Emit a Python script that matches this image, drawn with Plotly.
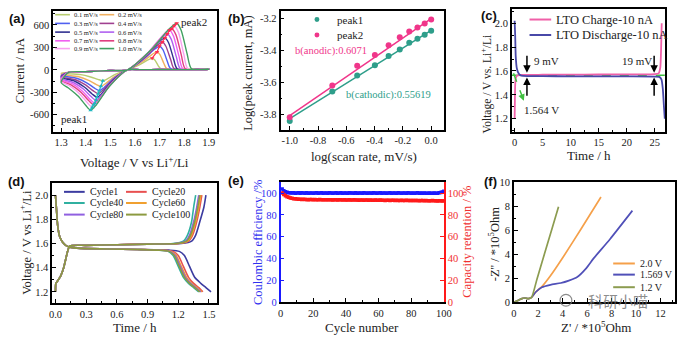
import plotly.graph_objects as go

W, H = 695, 345
SERIF = "Liberation Serif"
SANS = "Liberation Sans"
TXT = "#222222"

def px(x):
    return x / W

def py(y):
    return 1 - y / H

# ---------------- (a) CV curves ----------------
scan_rates = ["0.1 mV/s", "0.2 mV/s", "0.3 mV/s", "0.4 mV/s", "0.5 mV/s",
              "0.6 mV/s", "0.7 mV/s", "0.8 mV/s", "0.9 mV/s", "1.0 mV/s"]
cv_colors = ["#b8cc70", "#f0b060", "#5060f0", "#a04090", "#303090",
             "#b060f0", "#f060f0", "#e04080", "#f8a0f0", "#40a060"]

cv01_v = [1.30,1.33,1.40,1.50,1.57,1.620,1.655,1.670,1.681,1.695,1.705,1.90, 1.90,1.70,1.62,1.57,1.520,1.485,1.470,1.450,1.420,1.380,1.30]
cv01_i = [-45,-35,-25,-10,0,70,136,155,132,54,15,12, 8,4,2,0,-61,-127,-146,-128,-96,-65,-45]
cv02_v = [1.30,1.33,1.40,1.50,1.57,1.630,1.672,1.690,1.702,1.718,1.730,1.90, 1.90,1.70,1.62,1.57,1.516,1.478,1.462,1.442,1.412,1.372,1.30]
cv02_i = [-60,-35,-25,-10,0,108,211,240,204,84,15,12, 8,4,2,0,-93,-192,-221,-194,-140,-92,-60]
cv03_v = [1.30,1.33,1.40,1.50,1.57,1.635,1.681,1.700,1.714,1.732,1.745,1.90, 1.90,1.70,1.62,1.57,1.513,1.473,1.456,1.436,1.406,1.366,1.30]
cv03_i = [-75,-35,-25,-10,0,142,278,316,269,111,15,12, 8,4,2,0,-117,-243,-279,-246,-177,-116,-75]
cv04_v = [1.30,1.33,1.40,1.50,1.57,1.641,1.691,1.712,1.726,1.746,1.760,1.90, 1.90,1.70,1.62,1.57,1.511,1.469,1.451,1.431,1.401,1.361,1.30]
cv04_i = [-90,-35,-25,-10,0,167,327,372,316,130,15,12, 8,4,2,0,-134,-278,-320,-282,-205,-136,-90]
cv05_v = [1.30,1.33,1.40,1.50,1.57,1.646,1.699,1.722,1.737,1.757,1.772,1.90, 1.90,1.70,1.62,1.57,1.508,1.465,1.446,1.426,1.396,1.356,1.30]
cv05_i = [-100,-35,-25,-10,0,192,376,427,363,149,15,12, 8,4,2,0,-154,-319,-367,-323,-234,-153,-100]
cv06_v = [1.30,1.33,1.40,1.50,1.57,1.651,1.708,1.732,1.748,1.769,1.785,1.90, 1.90,1.70,1.62,1.57,1.506,1.461,1.442,1.422,1.392,1.352,1.30]
cv06_i = [-115,-35,-25,-10,0,216,422,479,407,168,15,12, 8,4,2,0,-171,-354,-407,-358,-261,-173,-115]
cv07_v = [1.30,1.33,1.40,1.50,1.57,1.656,1.715,1.741,1.757,1.779,1.795,1.90, 1.90,1.70,1.62,1.57,1.504,1.457,1.437,1.417,1.387,1.347,1.30]
cv07_i = [-125,-35,-25,-10,0,239,467,531,451,186,15,12, 8,4,2,0,-188,-389,-447,-393,-286,-189,-125]
cv08_v = [1.30,1.33,1.40,1.50,1.57,1.660,1.723,1.750,1.767,1.789,1.805,1.90, 1.90,1.70,1.62,1.57,1.501,1.453,1.432,1.412,1.382,1.342,1.30]
cv08_i = [-140,-35,-25,-10,0,248,484,550,468,193,15,12, 8,4,2,0,-197,-407,-468,-412,-304,-206,-140]
cv09_v = [1.30,1.33,1.40,1.50,1.57,1.665,1.732,1.760,1.777,1.799,1.815,1.90, 1.90,1.70,1.62,1.57,1.499,1.448,1.427,1.407,1.377,1.337,1.30]
cv09_i = [-150,-35,-25,-10,0,265,518,589,501,206,15,12, 8,4,2,0,-210,-436,-501,-441,-326,-220,-150]
cv10_v = [1.30,1.33,1.40,1.50,1.57,1.670,1.740,1.770,1.788,1.812,1.830,1.90, 1.90,1.70,1.62,1.57,1.495,1.443,1.420,1.400,1.370,1.330,1.30]
cv10_i = [-170,-35,-25,-10,0,281,549,624,530,218,15,12, 8,4,2,0,-227,-470,-540,-475,-355,-244,-170]

peak2_v = [1.670,1.690,1.700,1.712,1.722,1.732,1.741,1.750,1.760,1.770]
peak2_i = [155,240,316,372,427,479,531,550,589,624]
peak1_v = [1.470,1.462,1.456,1.451,1.446,1.442,1.437,1.432,1.427,1.420]
peak1_i = [-146,-221,-279,-320,-367,-407,-447,-468,-501,-540]

a_xticks = [1.3, 1.4, 1.5, 1.6, 1.7, 1.8, 1.9]
a_xtext = ["1.3", "1.4", "1.5", "1.6", "1.7", "1.8", "1.9"]
a_yticks = [-600, -300, 0, 300, 600]
a_ytext = ["-600", "-300", "0", "300", "600"]

# ---------------- (b) log-log ----------------
log_rate = [-1.0, -0.699, -0.523, -0.398, -0.301, -0.222, -0.155, -0.097, -0.046, 0.0]
log_ip1 = [-3.84, -3.655, -3.554, -3.49, -3.432, -3.392, -3.35, -3.325, -3.30, -3.275]
log_ip2 = [-3.816, -3.618, -3.493, -3.426, -3.366, -3.315, -3.279, -3.255, -3.23, -3.204]
fit_x = [-1.0, 0.0]
fit_ip1 = [-3.825, -3.272]
fit_ip2 = [-3.806, -3.199]
b_xticks = [-1.0, -0.8, -0.6, -0.4, -0.2, 0.0]
b_xtext = ["-1.0", "-0.8", "-0.6", "-0.4", "-0.2", "0.0"]
b_yticks = [-3.8, -3.6, -3.4, -3.2]
b_ytext = ["-3.8", "-3.6", "-3.4", "-3.2"]

# ---------------- (c) long charge/discharge ----------------
chg_t = [0.0, 0.05, 0.10, 0.20, 0.40, 1.0, 5.0, 10.0, 15.0, 20.0, 25.0, 25.7, 26.0, 26.15, 26.25]
chg_v = [1.20, 1.35, 1.48, 1.54, 1.56, 1.566, 1.568, 1.569, 1.570, 1.571, 1.573, 1.58, 1.63, 1.80, 2.00]
dis_t = [0.0, 0.1, 0.2, 0.4, 0.7, 1.0, 1.5, 5.0, 10.0, 15.0, 20.0, 25.0, 25.8, 26.2, 26.45, 26.65, 26.8]
dis_v = [2.02, 1.90, 1.72, 1.62, 1.58, 1.565, 1.558, 1.556, 1.555, 1.555, 1.554, 1.553, 1.55, 1.53, 1.45, 1.30, 1.20]
ref_t = [-0.5, 27.0]
ref_v = [1.564, 1.564]
c_xticks = [0, 5, 10, 15, 20, 25]
c_yticks = [1.2, 1.4, 1.6, 1.8, 2.0]
c_ytext = ["1.2", "1.4", "1.6", "1.8", "2.0"]

# ---------------- (d) cycling curves ----------------
cycle_names = ["Cycle1", "Cycle20", "Cycle40", "Cycle60", "Cycle80", "Cycle100"]
cycle_colors = ["#3c3ca0", "#e85050", "#30b0a0", "#f0a030", "#9060e0", "#8c9a40"]
chg_start_t = [0.000, 0.004, 0.02, 0.05, 0.08, 0.10, 0.12, 0.14, 0.30, 0.60, 0.90]
chg_start_v = [1.20, 1.27, 1.29, 1.33, 1.40, 1.47, 1.54, 1.58, 1.585, 1.59, 1.595]
dis_start_t = [0.000, 0.01, 0.02, 0.04, 0.07, 0.10, 0.14, 0.25, 0.50, 0.80]
dis_start_v = [2.00, 1.88, 1.76, 1.66, 1.61, 1.585, 1.57, 1.56, 1.555, 1.55]
chg_end_v = [1.60, 1.62, 1.67, 1.78, 1.90, 2.00]
c1_chg_t = [1.23, 1.33, 1.37, 1.41, 1.45, 1.47]
c20_chg_t = [1.20, 1.30, 1.34, 1.38, 1.41, 1.43]
c40_chg_t = [1.15, 1.25, 1.29, 1.33, 1.35, 1.37]
c60_chg_t = [1.19, 1.29, 1.33, 1.37, 1.40, 1.42]
c80_chg_t = [1.17, 1.27, 1.31, 1.35, 1.38, 1.40]
c100_chg_t = [1.18, 1.28, 1.32, 1.36, 1.39, 1.41]
dis_end_v = [1.545, 1.535, 1.50, 1.41, 1.32, 1.27, 1.235, 1.20]
c1_dis_t = [1.11, 1.21, 1.26, 1.31, 1.36, 1.42, 1.47, 1.52]
c20_dis_t = [1.05, 1.15, 1.20, 1.25, 1.30, 1.35, 1.40, 1.44]
c40_dis_t = [1.00, 1.10, 1.15, 1.20, 1.25, 1.30, 1.35, 1.40]
c60_dis_t = [1.03, 1.13, 1.18, 1.23, 1.28, 1.33, 1.38, 1.43]
c80_dis_t = [1.02, 1.12, 1.17, 1.22, 1.27, 1.32, 1.37, 1.42]
c100_dis_t = [1.01, 1.11, 1.16, 1.21, 1.26, 1.31, 1.36, 1.41]
d_xticks = [0.0, 0.3, 0.6, 0.9, 1.2, 1.5]
d_xtext = ["0.0", "0.3", "0.6", "0.9", "1.2", "1.5"]
d_yticks = [1.2, 1.4, 1.6, 1.8, 2.0]
d_ytext = ["1.2", "1.4", "1.6", "1.8", "2.0"]

# ---------------- (e) cycling stability ----------------
cycle_no = list(range(1, 101))
coulombic_eff = [103.8, 102.2, 101.3, 100.8, 100.4, 100.2, 100.0, 100.3, 99.9, 100.1,
                 100.2, 99.8, 100.3, 100.0, 99.9, 100.2, 99.8, 100.1, 100.0, 99.9,
                 100.1, 100.2, 99.8, 100.0, 100.3, 99.9, 100.0, 100.1, 99.8, 100.2,
                 100.0, 99.9, 100.1, 100.3, 99.8, 100.0, 100.2, 99.9, 100.1, 100.0,
                 99.8, 100.2, 100.0, 100.1, 99.9, 100.3, 99.9, 100.0, 100.1, 99.8,
                 100.2, 100.0, 99.9, 100.1, 100.0, 99.8, 100.2, 100.1, 99.9, 100.0,
                 100.3, 99.9, 100.0, 100.1, 99.8, 100.0, 100.2, 99.9, 100.1, 100.0,
                 99.9, 100.2, 100.0, 99.8, 100.1, 100.0, 99.9, 100.2, 100.0, 99.8,
                 100.1, 99.9, 100.0, 100.2, 99.8, 100.0, 99.9, 100.1, 99.8, 99.9,
                 100.0, 99.8, 99.9, 100.1, 99.8, 99.9, 100.2, 100.5, 101.0, 101.6]
capacity_ret = [100.0, 98.6, 97.5, 96.7, 96.1, 95.6, 95.2, 94.9, 94.7, 94.5,
                94.4, 94.3, 94.2, 94.3, 94.1, 94.2, 94.0, 94.1, 94.2, 94.0,
                94.1, 93.9, 94.0, 94.1, 93.9, 94.0, 93.8, 93.9, 94.0, 93.8,
                93.9, 93.7, 93.8, 93.9, 93.7, 93.8, 93.9, 93.7, 93.8, 93.6,
                93.7, 93.8, 93.6, 93.7, 93.8, 93.6, 93.7, 93.5, 93.6, 93.7,
                93.5, 93.6, 93.7, 93.5, 93.6, 93.4, 93.5, 93.6, 93.4, 93.5,
                93.6, 93.4, 93.5, 93.3, 93.4, 93.5, 93.3, 93.4, 93.5, 93.3,
                93.4, 93.2, 93.3, 93.4, 93.2, 93.3, 93.4, 93.2, 93.3, 93.1,
                93.2, 93.3, 93.1, 93.2, 93.0, 93.1, 93.2, 93.0, 93.1, 93.0,
                92.9, 93.0, 93.1, 92.9, 93.0, 92.8, 92.9, 93.0, 92.8, 92.9]
e_xticks = [0, 20, 40, 60, 80, 100]
e_yticks = [0, 20, 40, 60, 80, 100]

# ---------------- (f) Nyquist ----------------
z20_re = [0, 0.3, 0.6, 0.9, 1.2, 1.45, 1.8, 2.3, 3.0, 4.0, 5.5, 7.13]
z20_im = [0, 0.12, 0.28, 0.35, 0.30, 0.40, 0.85, 1.3, 2.2, 3.7, 6.1, 8.76]
z1569_re = [0, 0.3, 0.6, 0.9, 1.2, 1.45, 1.8, 2.3, 3.0, 3.85, 4.5, 5.19, 5.9, 6.53, 7.88, 9.7]
z1569_im = [0, 0.12, 0.28, 0.35, 0.30, 0.40, 0.85, 1.25, 1.45, 1.6, 1.8, 2.1, 2.8, 3.65, 5.27, 7.63]
z12_re = [0, 0.3, 0.6, 0.9, 1.2, 1.45, 1.9, 2.5, 3.1, 3.66]
z12_im = [0, 0.12, 0.28, 0.35, 0.30, 0.40, 1.94, 3.99, 6.04, 7.95]
eis_names = ["2.0 V", "1.569 V", "1.2 V"]
eis_colors = ["#f5a04a", "#5050b8", "#8c9c50"]
f_xticks = [0, 2, 4, 6, 8, 10, 12]
f_yticks = [0, 2, 4, 6, 8, 10]

fig = go.Figure()

def line(x, y, xa, ya, color, width=1.5, shape="spline", smoothing=0.8, dash=None):
    fig.add_trace(go.Scatter(x=x, y=y, xaxis=xa, yaxis=ya, mode="lines",
                             line=dict(color=color, width=width, shape=shape,
                                       smoothing=smoothing if shape == "spline" else None,
                                       dash=dash),
                             showlegend=False, hoverinfo="skip"))

# (a)
cv_v = [cv01_v, cv02_v, cv03_v, cv04_v, cv05_v, cv06_v, cv07_v, cv08_v, cv09_v, cv10_v]
cv_i = [cv01_i, cv02_i, cv03_i, cv04_i, cv05_i, cv06_i, cv07_i, cv08_i, cv09_i, cv10_i]
for v, i, c in zip(cv_v, cv_i, cv_colors):
    line(v, i, "x", "y", c, width=1.4, smoothing=0.7)
fig.add_trace(go.Scatter(x=peak2_v, y=peak2_i, xaxis="x", yaxis="y", mode="lines+markers",
                         line=dict(color="#ff2a50", width=1.2),
                         marker=dict(size=4, color="#ff2a50", symbol="triangle-down"),
                         showlegend=False, hoverinfo="skip"))
fig.add_trace(go.Scatter(x=peak1_v, y=peak1_i, xaxis="x", yaxis="y", mode="lines+markers",
                         line=dict(color="#20b8c0", width=1.2),
                         marker=dict(size=4, color="#20b8c0", symbol="triangle-up"),
                         showlegend=False, hoverinfo="skip"))

# (b)
line(fit_x, fit_ip1, "x2", "y2", "#2e9e8a", width=1.5, shape="linear")
line(fit_x, fit_ip2, "x2", "y2", "#f0368a", width=1.5, shape="linear")
fig.add_trace(go.Scatter(x=log_rate, y=log_ip1, xaxis="x2", yaxis="y2", mode="markers",
                         marker=dict(size=6, color="#2e9e8a"), showlegend=False, hoverinfo="skip"))
fig.add_trace(go.Scatter(x=log_rate, y=log_ip2, xaxis="x2", yaxis="y2", mode="markers",
                         marker=dict(size=6, color="#f0368a"), showlegend=False, hoverinfo="skip"))

# (c)
line(ref_t, ref_v, "x3", "y3", "#40c040", width=1.5, shape="linear", dash="dash")
line(chg_t, chg_v, "x3", "y3", "#f060a8", width=1.8, smoothing=0.5)
line(dis_t, dis_v, "x3", "y3", "#4848a8", width=1.8, smoothing=0.5)
line([-0.2, 1.65], [1.58, 1.35], "x3", "y3", "#40c040", width=1.5, shape="linear", dash="dash")

# (d)
chg_ts = [c1_chg_t, c20_chg_t, c40_chg_t, c60_chg_t, c80_chg_t, c100_chg_t]
dis_ts = [c1_dis_t, c20_dis_t, c40_dis_t, c60_dis_t, c80_dis_t, c100_dis_t]
for ct, dt, col in zip(chg_ts, dis_ts, cycle_colors):
    line(chg_start_t + ct, chg_start_v + chg_end_v, "x4", "y4", col, width=1.6, smoothing=0.6)
    line(dis_start_t + dt, dis_start_v + dis_end_v, "x4", "y4", col, width=1.6, smoothing=0.6)

# (e)
fig.add_trace(go.Scatter(x=cycle_no, y=coulombic_eff, xaxis="x5", yaxis="y5", mode="lines+markers",
                         line=dict(color="#1a1aff", width=1.5),
                         marker=dict(size=3.5, symbol="square", color="#1a1aff"),
                         showlegend=False, hoverinfo="skip"))
fig.add_trace(go.Scatter(x=cycle_no, y=capacity_ret, xaxis="x5", yaxis="y7", mode="lines+markers",
                         line=dict(color="#ff1a1a", width=1.5),
                         marker=dict(size=3.5, symbol="square", color="#ff1a1a"),
                         showlegend=False, hoverinfo="skip"))

# (f)
line(z20_re, z20_im, "x6", "y6", eis_colors[0], width=1.7, smoothing=0.6)
line(z1569_re, z1569_im, "x6", "y6", eis_colors[1], width=1.7, smoothing=0.6)
line(z12_re, z12_im, "x6", "y6", eis_colors[2], width=1.7, smoothing=0.6)

# ---------------- axes ----------------
tickfont = dict(family=SERIF, size=10.5, color=TXT)

def ax(domain, rng, anchor, **kw):
    d = dict(domain=domain, range=rng, anchor=anchor, showline=True, linecolor="black",
             linewidth=1.6, mirror=True, ticks="inside", ticklen=4, tickwidth=1,
             tickcolor="black", showgrid=False, zeroline=False, tickfont=tickfont)
    d.update(kw)
    return d

def minor(dt, t0=0):
    return dict(ticks="inside", ticklen=2, tickwidth=1, tickcolor="black", dtick=dt, tick0=t0, showgrid=False)

layout = dict(width=W, height=H, margin=dict(l=0, r=0, t=0, b=0),
              paper_bgcolor="white", plot_bgcolor="white", showlegend=False)

layout["xaxis"] = ax([px(51), px(217)], [1.268, 1.932], "y", tickmode="array",
                     tickvals=a_xticks, ticktext=a_xtext, minor=minor(0.05, 1.3))
layout["yaxis"] = ax([py(131), py(6)], [-830, 790], "x", tickmode="array",
                     tickvals=a_yticks, ticktext=a_ytext, minor=minor(150, 0))
layout["xaxis2"] = ax([px(282), px(448)], [-1.065, 0.09], "y2", tickmode="array",
                      tickvals=b_xticks, ticktext=b_xtext, minor=minor(0.1, 0))
layout["yaxis2"] = ax([py(129), py(6)], [-3.895, -3.15], "x2", tickmode="array",
                      tickvals=b_yticks, ticktext=b_ytext, minor=minor(0.1, 0))
layout["xaxis3"] = ax([px(517), px(673)], [-0.5, 26.9], "y3", tickmode="array",
                      tickvals=c_xticks, minor=minor(2.5, 0))
layout["yaxis3"] = ax([py(131), py(4)], [1.09, 2.12], "x3", tickmode="array",
                      tickvals=c_yticks, ticktext=c_ytext, minor=minor(0.1, 0))
layout["xaxis4"] = ax([px(50), px(217)], [-0.032, 1.574], "y4", tickmode="array",
                      tickvals=d_xticks, ticktext=d_xtext, minor=minor(0.15, 0))
layout["yaxis4"] = ax([py(308), py(184)], [1.106, 2.10], "x4", tickmode="array",
                      tickvals=d_yticks, ticktext=d_ytext, minor=minor(0.1, 0))
layout["xaxis5"] = ax([px(282), px(448)], [0, 100], "y5", tickmode="array",
                      tickvals=e_xticks, minor=minor(10, 0))
layout["yaxis5"] = ax([py(307), py(183)], [0, 110], "x5", tickmode="array",
                      tickvals=e_yticks, mirror=False, linecolor="#1a1aff", tickcolor="#1a1aff",
                      tickfont=dict(family=SERIF, size=10.5, color="#3030f0"))
layout["yaxis7"] = ax([py(307), py(183)], [0, 110], "x5", overlaying="y5", side="right",
                      tickmode="array", tickvals=e_yticks, mirror=False, linecolor="#ff1a1a",
                      tickcolor="#ff1a1a", tickfont=dict(family=SERIF, size=10.5, color="#f03030"))
layout["xaxis6"] = ax([px(519), px(683)], [0, 13.2], "y6", tickmode="array",
                      tickvals=f_xticks, minor=minor(1, 0))
layout["yaxis6"] = ax([py(307), py(183)], [0, 10], "x6", tickmode="array",
                      tickvals=f_yticks, minor=minor(1, 0))

annotations = []
shapes = []

def text(x, y, s, size=12, color=TXT, xanchor="center", angle=0, family=SERIF):
    annotations.append(dict(x=px(x), y=py(y), xref="paper", yref="paper", text=s,
                            showarrow=False, xanchor=xanchor, yanchor="middle",
                            textangle=angle, font=dict(family=family, size=size, color=color)))

def leg_line(x0, x1, y, color, width=2):
    shapes.append(dict(type="line", xref="paper", yref="paper", x0=px(x0), x1=px(x1),
                       y0=py(y), y1=py(y), line=dict(color=color, width=width)))

# panel labels
for lab, x, y in [("(a)", 14, 14), ("(b)", 237, 14), ("(c)", 494, 11),
                  ("(d)", 14, 182), ("(e)", 237, 181), ("(f)", 495, 182)]:
    text(x, y, lab, size=13, color="#111", family=SANS)
    annotations[-1]["font"]["weight"] = "bold"

# axis titles
text(17, 68, "Current / nA", size=13, angle=-90)
text(134, 162, "Voltage / V vs Li<sup>+</sup>/Li", size=13)
text(249, 70, "Log(peak current, mA)", size=12.5, angle=-90)
text(367, 157, "log(scan rate, mV/s)", size=13)
text(491, 82, "Voltage / V vs. Li<sup>+</sup>/Li", size=11.5, angle=-90)
text(595, 155, "Time / h", size=13)
text(23, 245, "Voltage / V vs Li<sup>+</sup>/Li", size=12.5, angle=-90)
text(134, 333, "Time / h", size=13)
text(259, 245, "Coulombic efficiency /%", size=12.5, angle=-90, color="#3030f0")
text(365, 333, "Cycle number", size=13)
text(472, 245, "Capacity retention / %", size=12.5, angle=-90, color="#f03030")
text(499, 247, "-Z'' / *10<sup>5</sup>Ohm", size=12.5, angle=-90)
text(603, 333, "Z' / *10<sup>5</sup>Ohm", size=13)

# (a) legend
a_rows = [10, 19, 28, 37, 45]
for k, (nm, col) in enumerate(zip(scan_rates, cv_colors)):
    r, cidx = k // 2, k % 2
    x0 = 53 if cidx == 0 else 98
    leg_line(x0, x0 + 15, a_rows[r], col, width=1.6)
    text(x0 + 17, a_rows[r], nm, size=6.5, xanchor="left")
text(194, 18, "peak2", size=11)
text(72, 118, "peak1", size=11)

# (b) legend + labels
shapes.append(dict(type="circle", xref="paper", yref="paper", x0=px(316.5), x1=px(321.5),
                   y0=py(17.5), y1=py(12.5), fillcolor="#2e9e8a", line=dict(width=0)))
shapes.append(dict(type="circle", xref="paper", yref="paper", x0=px(316.5), x1=px(321.5),
                   y0=py(33.5), y1=py(28.5), fillcolor="#f0368a", line=dict(width=0)))
text(337, 15, "peak1", size=11, xanchor="left")
text(337, 31, "peak2", size=11, xanchor="left")
text(295, 48, "b(anodic):0.6071", size=10.5, color="#f0368a", xanchor="left")
text(346, 93, "b(cathodic):0.55619", size=10.5, color="#2e9e8a", xanchor="left")

# (c) legend + labels
leg_line(535, 557, 15, "#f060a8", width=2)
leg_line(535, 557, 31, "#4848a8", width=2)
text(560, 15, "LTO Charge-10 nA", size=12.5, xanchor="left")
text(560, 31, "LTO Discharge-10 nA", size=12.5, xanchor="left")
text(538, 58, "9 mV", size=11, xanchor="left")
text(627, 58, "19 mV", size=11, xanchor="left")
text(527, 108, "1.564 V", size=11, xanchor="left")
for tx in [2.2, 24.9]:
    annotations.append(dict(x=tx, y=1.585, ax=tx, ay=1.74, xref="x3", yref="y3", axref="x3",
                            ayref="y3", text="", showarrow=True, arrowhead=2, arrowsize=1,
                            arrowwidth=1.5, arrowcolor="black"))
    annotations.append(dict(x=tx, y=1.545, ax=tx, ay=1.38, xref="x3", yref="y3", axref="x3",
                            ayref="y3", text="", showarrow=True, arrowhead=2, arrowsize=1,
                            arrowwidth=1.5, arrowcolor="black"))
annotations.append(dict(x=1.65, y=1.35, ax=1.4, ay=1.38, xref="x3", yref="y3", axref="x3",
                        ayref="y3", text="", showarrow=True, arrowhead=2, arrowsize=1,
                        arrowwidth=1.3, arrowcolor="#40c040"))

# (d) legend
d_rows = [193, 204.5, 216.5]
for k, (nm, col) in enumerate(zip(cycle_names, cycle_colors)):
    r, cidx = k // 2, k % 2
    x0 = 62 if cidx == 0 else 125
    leg_line(x0, x0 + 21, d_rows[r], col, width=2)
    text(x0 + 24, d_rows[r], nm, size=10, xanchor="left")

# (f) legend
f_rows = [267, 278.5, 291.5]
for nm, col, yy in zip(eis_names, eis_colors, f_rows):
    leg_line(620, 642, yy, col, width=2)
    text(645, yy, nm, size=10, xanchor="left")

# watermark
shapes.append(dict(type="circle", xref="paper", yref="paper", x0=px(566), x1=px(578),
                   y0=py(311), y1=py(299), line=dict(color="rgba(110,110,110,0.8)", width=1.2)))
text(625, 305, "科研小喵", size=15, color="rgba(110,110,110,0.8)", family="Noto Sans CJK SC")

layout["annotations"] = annotations
layout["shapes"] = shapes
fig.update_layout(**layout)
fig.write_html("out.html")
